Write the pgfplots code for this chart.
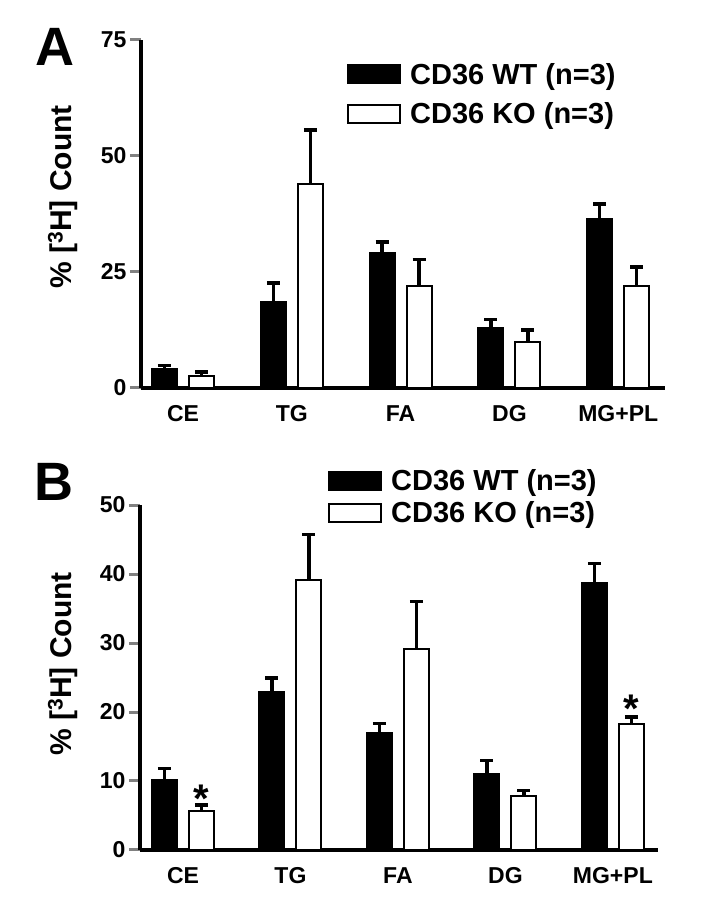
\documentclass[border=0pt]{standalone}
\usepackage{fontspec}
\setmainfont{Liberation Sans}
\usepackage{pgfplots}
\pgfplotsset{compat=1.18}
\pgfplotsset{
  panel/.style={
    scale only axis,
    anchor=south west,
    axis x line*=bottom, axis y line*=left,
    axis line style={-, line width=3.5pt},
    ybar=12pt, bar width=25pt,
    legend image code/.code={\draw[##1, line width=2pt] (0pt,-9pt) rectangle (52pt,9pt); \path[draw=none, fill=none] (0pt,0pt) -- (60pt,0pt);},
    xtick={0,1,2,3,4}, xticklabels={CE,TG,FA,DG,MG+PL},
    xtick style={draw=none},
    ytick style={line width=3pt},
    tick align=outside, major tick length=11pt,
    ymin=0,
    tick label style={font=\fontsize{23}{26}\selectfont\bfseries},
    xticklabel style={yshift=-3pt},
    /pgf/number format/assume math mode=true,
    ylabel={\% [\textsuperscript{3}H] Count},
    ylabel style={font=\fontsize{30}{34}\selectfont\bfseries, anchor=center},
    legend style={draw=none, fill=none, font=\fontsize{29}{32}\selectfont\bfseries, anchor=north west, inner sep=0pt},
    legend cell align=left,
    error bars/y dir=plus, error bars/y explicit,
    error bars/error bar style={line width=3.5pt, solid},
    error bars/error mark options={rotate=90, mark size=6.5pt, line width=3.5pt},
    clip=false,
  },
  wt/.style={fill=black, draw=black, line width=2pt},
  ko/.style={fill=white, draw=black, line width=2pt},
}
\begin{document}
\begin{tikzpicture}
\path[use as bounding box] (0,0) rectangle (705pt,900pt);
% Panel A
\begin{axis}[panel,
  at={(141pt,512pt)}, width=524pt, height=348pt,
  xmin=-0.386, xmax=4.43, ymax=75, ytick={0,25,50,75},
  ylabel style={at={(axis description cs:-0.149,0.549)}},
  legend style={at={(axis description cs:0.393,0.94)}, row sep=13pt},
]
\addplot[wt] coordinates {(0,4.0) +- (0,0.9) (1,18.5) +- (0,4.1) (2,29.0) +- (0,2.5) (3,12.9) +- (0,1.9) (4,36.4) +- (0,3.3)};
\addplot[ko] coordinates {(0,2.6) +- (0,0.8) (1,43.9) +- (0,11.7) (2,22.0) +- (0,5.7) (3,10.0) +- (0,2.5) (4,22.0) +- (0,4.1)};
\legend{CD36 WT (n=3), CD36 KO (n=3)}
\end{axis}
% Panel B
\begin{axis}[panel,
  at={(140pt,50pt)}, width=518pt, height=345pt,
  xmin=-0.4, xmax=4.42, ymax=50, ytick={0,10,20,30,40,50},
  ylabel style={at={(axis description cs:-0.149,0.539)}},
  legend style={at={(axis description cs:0.363,1.11)}, row sep=6pt},
]
\addplot[wt] coordinates {(0,10.1) +- (0,1.7) (1,22.9) +- (0,2.0) (2,16.9) +- (0,1.4) (3,11.0) +- (0,2.0) (4,38.7) +- (0,2.8)};
\addplot[ko] coordinates {(0,5.7) +- (0,0.8) (1,39.1) +- (0,6.6) (2,29.2) +- (0,6.8) (3,7.8) +- (0,0.8) (4,18.2) +- (0,1.1)};
\legend{CD36 WT (n=3), CD36 KO (n=3)}
\node[font=\fontsize{40}{40}\selectfont\bfseries, inner sep=0pt, anchor=north] at (axis cs:0.172,9.4) {*};
\node[font=\fontsize{40}{40}\selectfont\bfseries, inner sep=0pt, anchor=north] at (axis cs:4.167,22.5) {*};
\end{axis}
\node[font=\fontsize{54}{54}\selectfont\bfseries] at (55pt,853pt) {A};
\node[font=\fontsize{54}{54}\selectfont\bfseries] at (54pt,418pt) {B};
\end{tikzpicture}
\end{document}
